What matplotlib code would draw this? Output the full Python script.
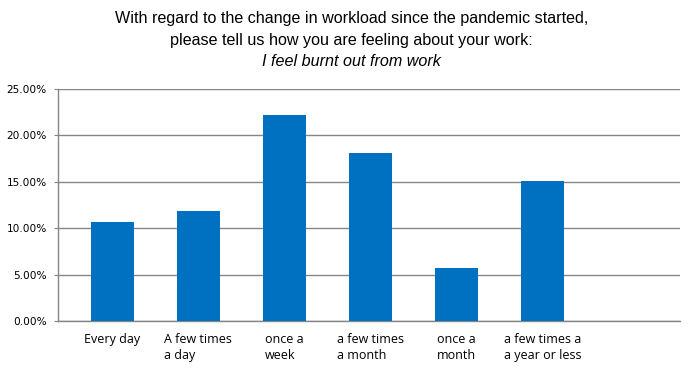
import matplotlib
matplotlib.use("Agg")
import matplotlib.pyplot as plt
from matplotlib.ticker import PercentFormatter

categories = ["Every day", "A few times\na day", "once a\nweek", "a few times\na month",
              "once a\nmonth", "a few times a\na year or less"]
shares = [10.65, 11.9, 22.25, 18.1, 5.75, 15.05]
y_ticks = [0, 5, 10, 15, 20, 25]

title_lines = ["With regard to the change in workload since the pandemic started,",
               "please tell us how you are feeling about your work:"]
title_italic = "I feel burnt out from work"

fig = plt.figure(figsize=(6.92, 3.82), dpi=100)
ax = fig.add_axes([0.0838, 0.16, 0.8989, 0.607])

x = range(len(categories))
ax.bar(x, shares, width=0.5, color="#0070C0", zorder=3)

ax.set_xlim(-0.63, 6.6)
ax.set_ylim(0, 25)
ax.set_yticks(y_ticks)
ax.yaxis.set_major_formatter(PercentFormatter(decimals=2))
ax.grid(axis="y", color="#868686", linewidth=1, zorder=0)

for s in ["top", "right"]:
    ax.spines[s].set_visible(False)
for s in ["left", "bottom"]:
    ax.spines[s].set_color("#868686")
    ax.spines[s].set_linewidth(1)

ax.tick_params(axis="y", length=3, color="#868686", labelsize=7.6, pad=5)
ax.tick_params(axis="x", length=0, pad=9)
ax.set_xticks(list(x))
ax.set_xticklabels(categories, fontsize=9, family="Open Sans", linespacing=1.25,
                   multialignment="left", va="top")

fig.text(0.508, 0.952, title_lines[0], ha="center", va="center", fontsize=11.6, family="Liberation Sans")
fig.text(0.508, 0.895, title_lines[1], ha="center", va="center", fontsize=11.6, family="Liberation Sans")
fig.text(0.508, 0.840, title_italic, ha="center", va="center", fontsize=11.6, family="Liberation Sans",
         style="italic")

fig.savefig("out.png", dpi=100)
